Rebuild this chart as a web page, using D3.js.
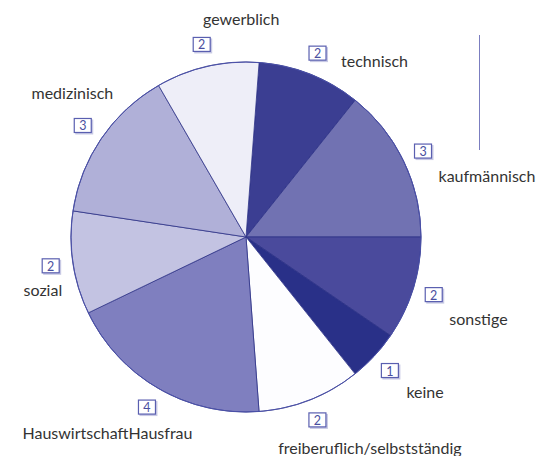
<!DOCTYPE html>
<html>
<head>
<meta charset="utf-8">
<script src="https://cdn.jsdelivr.net/npm/d3@7"></script>
<style>
  body { margin: 0; background: #fff; }
  svg { display: block; }
  .lbl { font-family: Lato, "Open Sans", sans-serif; font-size: 16px; fill: #333; }
  .num { font-family: Lato, "Open Sans", sans-serif; font-size: 12.5px; fill: #4a4f9f; }
</style>
</head>
<body>
<div id="chart"></div>
<script>
// data
const categories = ["technisch", "kaufmännisch", "sonstige", "keine", "freiberuflich/selbstständig",
    "HauswirtschaftHausfrau", "sozial", "medizinisch", "gewerblich"];
const values = [2, 3, 2, 1, 2, 4, 2, 3, 2];
const colors = ["#3b3e92", "#7172b2", "#4a4a9c", "#293088", "#fdfdff",
    "#7f7fbf", "#c3c3e2", "#b0b0d8", "#eeeef8"];

// label text offsets relative to the number box (layout only)
const labelOffsets = [
    {dx: 23, dy: 8, anchor: "start"},
    {dx: 15, dy: 25, anchor: "start"},
    {dx: 15, dy: 24, anchor: "start"},
    {dx: 16, dy: 21, anchor: "start"},
    {dx: 52, dy: 28, anchor: "middle"},
    {dx: -40, dy: 26, anchor: "middle"},
    {dx: 11, dy: 24, anchor: "end"},
    {dx: 30, dy: -33, anchor: "end"},
    {dx: 39, dy: -26, anchor: "middle"}
];

const width = 538, height = 456;
const cx = 246, cy = 237, radius = 175;

const svg = d3.select("#chart").append("svg")
    .attr("width", width)
    .attr("height", height);

const startOffset = 4.3 * Math.PI / 180;

const pie = d3.pie()
    .sort(null)
    .value(d => d.value)
    .startAngle(startOffset)
    .endAngle(startOffset + 2 * Math.PI);

const data = categories.map((c, i) => ({name: c, value: values[i], color: colors[i], off: labelOffsets[i]}));
const arcs = pie(data);

const arc = d3.arc().innerRadius(0).outerRadius(radius);
const boxArc = d3.arc().innerRadius(197).outerRadius(197);

const g = svg.append("g").attr("transform", "translate(" + cx + "," + cy + ")");

g.selectAll("path.slice")
    .data(arcs)
    .enter()
    .append("path")
    .attr("class", "slice")
    .attr("d", arc)
    .attr("fill", d => d.data.color)
    .attr("stroke", "#2e3388")
    .attr("stroke-width", 0.8);

// outer rim
g.append("circle")
    .attr("r", radius)
    .attr("fill", "none")
    .attr("stroke", "#4a50a8")
    .attr("stroke-width", 1);

// number boxes and labels
const lab = g.selectAll("g.lab")
    .data(arcs)
    .enter()
    .append("g")
    .attr("class", "lab")
    .attr("transform", d => "translate(" + boxArc.centroid(d) + ")");

lab.append("rect")
    .attr("x", -8).attr("y", -6.5)
    .attr("width", 18).attr("height", 15)
    .attr("fill", "#c8c9e4");

lab.append("rect")
    .attr("x", -9).attr("y", -7.5)
    .attr("width", 17).attr("height", 14)
    .attr("fill", "#fff")
    .attr("stroke", "#5a5fb0")
    .attr("stroke-width", 1.2);

lab.append("text")
    .attr("class", "num")
    .attr("x", -0.5)
    .attr("y", 0)
    .attr("dy", "0.36em")
    .attr("text-anchor", "middle")
    .text(d => d.data.value);

lab.append("text")
    .attr("class", "lbl")
    .attr("x", d => d.data.off.dx)
    .attr("y", d => d.data.off.dy)
    .attr("dy", "0.35em")
    .attr("text-anchor", d => d.data.off.anchor)
    .text(d => d.data.name);

// stray legend line on the right
svg.append("line")
    .attr("x1", 479.5).attr("x2", 479.5)
    .attr("y1", 35).attr("y2", 150)
    .attr("stroke", "#7b7ec0")
    .attr("stroke-width", 1);
</script>
</body>
</html>
